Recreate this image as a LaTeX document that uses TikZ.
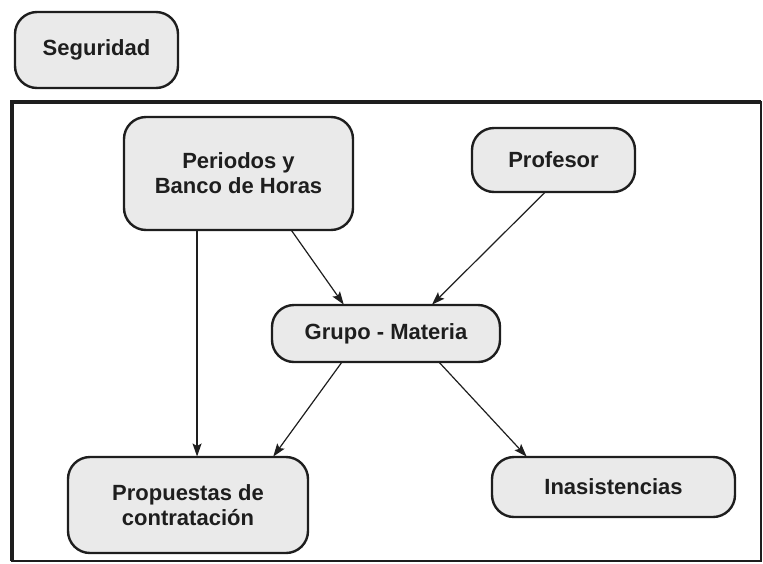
\documentclass[tikz,border=0pt]{standalone}
\usepackage{fontspec}
\setmainfont{Liberation Sans}
\usetikzlibrary{arrows.meta,calc}
\definecolor{boxfill}{HTML}{EAEAEA}
\definecolor{ink}{HTML}{1E1E1E}
\tikzset{
  entity/.style={draw=ink, line width=2.4pt, fill=boxfill, rounded corners=22pt,
    align=center, font=\fontsize{22}{25}\selectfont\bfseries, text=ink,
    inner sep=0pt, outer sep=0pt},
  link/.style={draw=ink, line width=1.2pt,
    -{Stealth[length=13pt,width=9pt,inset=2.5pt]}, shorten >=0.5pt}
}
\begin{document}
\begin{tikzpicture}[x=1pt,y=-1pt]
\useasboundingbox (0,0) rectangle (763,563);
% frame
\draw[ink, line width=2.4pt] (761,101) -- (761,561) -- (11,561);
\draw[ink, line width=4pt] (12,561) -- (12,102) -- (761,102);

\node[entity, minimum width=163pt, minimum height=76pt] (seg) at (96.5,50) {Seguridad};
\node[entity, minimum width=229pt, minimum height=113pt] (per) at (238.5,173.5) {Periodos y\\Banco de Horas};
\node[entity, minimum width=163pt, minimum height=64pt] (prof) at (553.5,160) {Profesor};
\node[entity, minimum width=228pt, minimum height=57pt] (gru) at (386,333.5) {Grupo - Materia};
\node[entity, minimum width=240pt, minimum height=96pt] (prop) at (188,505) {Propuestas de\\contratación};
\node[entity, minimum width=243pt, minimum height=60pt] (inas) at (613.5,487) {Inasistencias};

\coordinate (a1) at ($(per.south west)!0.319!(per.south east)$);
\draw[link] (a1) -- (a1 |- prop.north);
\draw[link] ($(per.south west)!0.73!(per.south east)$) -- ($(gru.north west)!0.316!(gru.north east)$);
\draw[link] ($(prof.south west)!0.45!(prof.south east)$) -- ($(gru.north west)!0.70!(gru.north east)$);
\draw[link] ($(gru.south west)!0.307!(gru.south east)$) -- ($(prop.north west)!0.854!(prop.north east)$);
\draw[link] ($(gru.south west)!0.732!(gru.south east)$) -- ($(inas.north west)!0.144!(inas.north east)$);
\end{tikzpicture}
\end{document}
